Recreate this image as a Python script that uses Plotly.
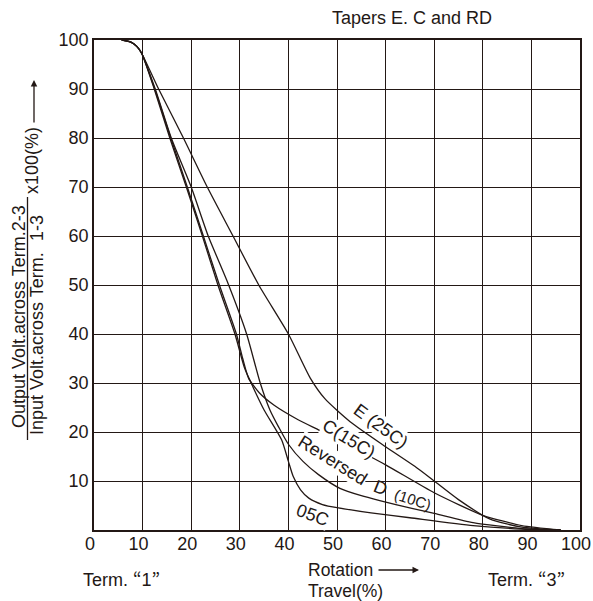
import plotly.graph_objects as go

# ---------------- data ----------------
e_x = [5.7, 7.5, 8.8, 9.8, 13.3, 18.4, 23.3, 28.6, 33.9, 40.0, 44.5, 47.5, 52.7, 60, 66, 70, 75, 81.5, 88, 96]
e_y = [100, 99.6, 98.7, 97.3, 90, 80, 70, 60, 50, 40, 31, 26.8, 22.1, 17, 13, 10, 6.2, 2.2, 0.6, 0]

c_x = [5.7, 7.5, 8.8, 9.8, 12.5, 15.8, 19.2, 22.5, 25.8, 29.3, 30.6, 31.8, 34.0, 37.0, 42.0, 46.5, 52, 60, 70, 80, 88, 96]
c_y = [100, 99.6, 98.7, 97.3, 90, 80, 70, 60, 50, 40, 35, 31, 28, 25.5, 22.5, 20.3, 17.5, 13.3, 7.6, 3.0, 0.9, 0]

rd_x = [5.7, 7.5, 8.8, 9.8, 12.6, 15.9, 20.0, 23.5, 27.3, 31.4, 34.2, 36.2, 38, 40, 43, 46.2, 50.6, 55, 58.8, 65.4, 70, 78, 88, 96]
rd_y = [100, 99.6, 98.7, 97.3, 90, 80, 70, 60, 51, 40, 30, 24.5, 21, 17.5, 14, 11.3, 8.5, 7.0, 6.0, 4.4, 3.4, 1.5, 0.3, 0]

c05_x = [5.7, 7.5, 8.8, 9.8, 12.4, 15.6, 19.0, 22.3, 25.5, 29.0, 31.0, 32.8, 35.0, 38.6, 40.0, 41.0, 42.5, 44.2, 47, 50.3, 57, 65, 78, 88, 96]
c05_y = [100, 99.6, 98.7, 97.3, 90, 80, 70, 60, 50, 40, 33, 29, 24.5, 18.4, 14, 10.9, 8.2, 6.5, 5.2, 4.5, 3.5, 2.5, 0.9, 0.2, 0]

x_ticks = [0, 10, 20, 30, 40, 50, 60, 70, 80, 90, 100]
y_ticks = [10, 20, 30, 40, 50, 60, 70, 80, 90, 100]

# curve labels: text, x, y, angle, font size, white backing
label_text = ["E (25C)", "C(15C)", "Reversed", "D", "(10C)", "05C"]
label_x = [59.0, 52.5, 49.0, 59.0, 65.6, 44.9]
label_y = [21.3, 18.6, 14.2, 8.6, 6.2, 3.0]
label_ang = [36, 31, 32, 22, 18, 20]
label_size = [18, 18, 18, 18, 15, 18]
label_bg = [True, True, True, False, False, True]

title_text = "Tapers E. C and RD"

# ---------------- figure ----------------
INK = "#231815"
FONT = "Arial, Liberation Sans, sans-serif"
CJK = "Noto Sans CJK JP"
W, H = 593, 601
# plot area on the page: left 94, right 580, top 40, bottom 530
L, T = 94, 40
R = W - 580
B = H - 530
PW, PH = W - L - R, H - T - B


def px(xp):
    return (xp - L) / PW


def py(yp):
    return (H - B - yp) / PH


def q(s):
    return ('Term. <span style="font-family:%s">\u201c</span>%s<span style="font-family:%s">\u201d</span>'
            % (CJK, s, CJK))


fig = go.Figure()
for xs, ys in [(e_x, e_y), (c_x, c_y), (rd_x, rd_y), (c05_x, c05_y)]:
    fig.add_trace(go.Scatter(x=xs, y=ys, mode="lines",
                             line=dict(color=INK, width=1.3, shape="spline", smoothing=0.6),
                             hoverinfo="skip", showlegend=False))

annotations = []
for t, x, y, a, s, bg in zip(label_text, label_x, label_y, label_ang, label_size, label_bg):
    annotations.append(dict(x=x, y=y, xref="x", yref="y", text=t, textangle=a, showarrow=False,
                            xanchor="center", yanchor="middle",
                            font=dict(family=FONT, size=s, color=INK),
                            bgcolor="white" if bg else "rgba(0,0,0,0)", borderpad=0))

TXT = dict(family=FONT, size=18, color=INK)


def note(xp, yp, text, angle=0, xa="center", font=TXT):
    return dict(x=px(xp), y=py(yp), xref="paper", yref="paper", text=text, textangle=angle,
                xanchor=xa, yanchor="middle", showarrow=False, font=font, align="left")


annotations += [
    note(412, 18, title_text),
    # y title (fraction)
    note(19, 317, "Output Volt.across Term.2-3", -90),
    note(37, 344, "Input Volt.across Term.", -90),
    note(37, 228, "1-3", -90),
    note(32, 161, "x100(%)", -90),
    dict(x=px(34), y=py(80), xref="paper", yref="paper", ax=0, ay=44, text="", showarrow=True,
         arrowhead=2, arrowsize=1, arrowwidth=1.3, arrowcolor=INK),
    # x-axis extra labels
    note(81, 578, q("1"), xa="left"),
    note(486, 578, q("3"), xa="left"),
    note(306, 570, "Rotation", xa="left", font=dict(family=FONT, size=17.5, color=INK)),
    note(306, 591, "Travel(%)", xa="left", font=dict(family=FONT, size=17.5, color=INK)),
    dict(x=px(419), y=py(570), xref="paper", yref="paper", ax=-42, ay=0, text="", showarrow=True,
         arrowhead=2, arrowsize=1, arrowwidth=1.3, arrowcolor=INK),
]

fig.add_shape(type="line", xref="paper", yref="paper", x0=px(27.5), x1=px(27.5), y0=py(197), y1=py(440),
              line=dict(color=INK, width=1.3))

fig.update_layout(
    width=W, height=H, margin=dict(l=L, r=R, t=T, b=B, pad=0), plot_bgcolor="white", paper_bgcolor="white",
    annotations=annotations, showlegend=False,
    xaxis=dict(range=[0, 100], tickvals=x_ticks, showgrid=True, gridcolor=INK, gridwidth=1.3, zeroline=False,
               showline=True, linecolor=INK, linewidth=1.5, mirror=True, ticks="", ticklen=0,
               tickfont=TXT, fixedrange=True, automargin=False, ticklabeloverflow="allow"),
    yaxis=dict(range=[0, 100], tickvals=y_ticks, showgrid=True, gridcolor=INK, gridwidth=1.3, zeroline=False,
               showline=True, linecolor=INK, linewidth=1.5, mirror=True, ticks="", ticklen=0,
               tickfont=TXT, fixedrange=True, automargin=False),
)
try:
    fig.update_xaxes(ticklabelshift=-4)
except Exception:
    pass
try:
    fig.update_xaxes(ticklabelstandoff=-3)
except Exception:
    pass

fig.write_html("out.html", config={"displayModeBar": False},
               post_script="document.body.style.margin='0px';document.body.style.overflow='hidden';")
